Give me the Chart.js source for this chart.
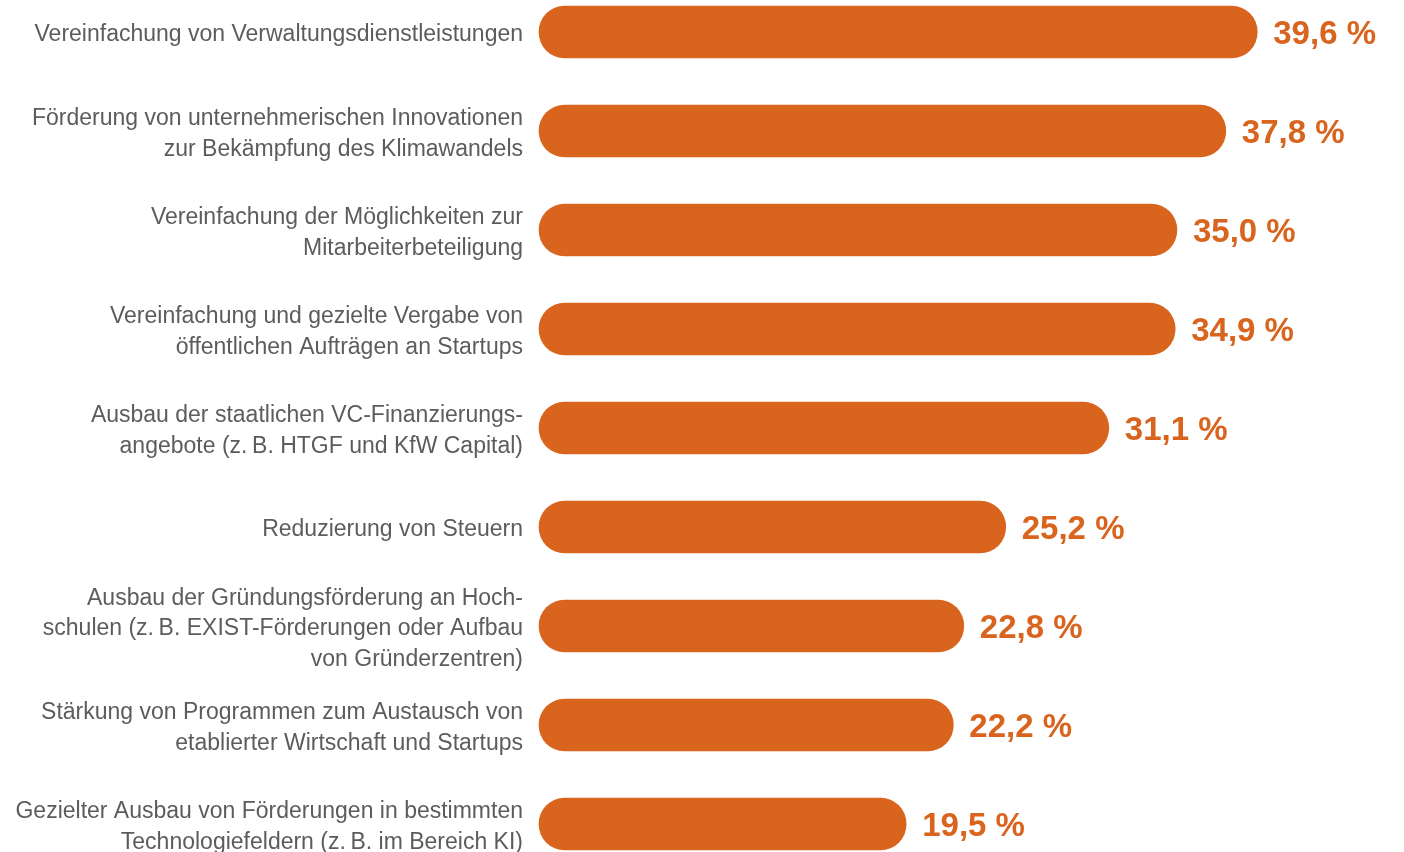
<!DOCTYPE html>
<html lang="de">
<head>
<meta charset="utf-8">
<script src="https://cdn.jsdelivr.net/npm/chart.js@4"></script>
<style>
  html, body { margin: 0; padding: 0; background: #ffffff; }
  canvas { display: block; }
</style>
</head>
<body>
<canvas id="massnahmen" width="1404" height="852"></canvas>
<script>
// Kategorien (mehrzeilig wie im Layout umbrochen)
var categories = [
    ["Vereinfachung von Verwaltungsdienstleistungen"],
    ["Förderung von unternehmerischen Innovationen", "zur Bekämpfung des Klimawandels"],
    ["Vereinfachung der Möglichkeiten zur", "Mitarbeiterbeteiligung"],
    ["Vereinfachung und gezielte Vergabe von", "öffentlichen Aufträgen an Startups"],
    ["Ausbau der staatlichen VC-Finanzierungs-", "angebote (z.\u2009B. HTGF und KfW Capital)"],
    ["Reduzierung von Steuern"],
    ["Ausbau der Gründungsförderung an Hoch-", "schulen (z.\u2009B. EXIST-Förderungen oder Aufbau", "von Gründerzentren)"],
    ["Stärkung von Programmen zum Austausch von", "etablierter Wirtschaft und Startups"],
    ["Gezielter Ausbau von Förderungen in bestimmten", "Technologiefeldern (z.\u2009B. im Bereich KI)"]
];

// Anteil der Nennungen in Prozent
var shares = [39.6, 37.8, 35.0, 34.9, 31.1, 25.2, 22.8, 22.2, 19.5];

var orange = "#d8641e";

function formatShare(v) {
    return v.toFixed(1).replace(".", ",") + " %";
}

// Prozentwerte rechts neben die Balken schreiben
var valueLabels = {
    id: "valueLabels",
    afterDatasetsDraw: function(chart) {
        var ctx = chart.ctx;
        var meta = chart.getDatasetMeta(0);
        ctx.save();
        ctx.fillStyle = orange;
        ctx.font = "bold 33px 'Liberation Sans', Arial, sans-serif";
        ctx.textAlign = "left";
        ctx.textBaseline = "middle";
        meta.data.forEach(function(bar, i) {
            ctx.fillText(formatShare(shares[i]), bar.x + 16, bar.y + 3);
        });
        ctx.restore();
    }
};

var ctx = document.getElementById("massnahmen").getContext("2d");
var chart = new Chart(ctx, {
    type: "bar",
    data: {
        labels: categories,
        datasets: [
            {
                data: shares,
                base: -1.52,
                backgroundColor: orange,
                borderRadius: 26,
                borderSkipped: false,
                barThickness: 52,
                clip: false
            }
        ]
    },
    options: {
        indexAxis: "y",
        responsive: false,
        animation: false,
        devicePixelRatio: 1,
        layout: {
            padding: { top: 32, bottom: 28, left: 0, right: 0 }
        },
        plugins: {
            legend: { display: false },
            tooltip: { enabled: false }
        },
        scales: {
            x: {
                display: false,
                min: -1.52,
                max: 48
            },
            y: {
                offset: false,
                grid: { display: false, drawTicks: false },
                border: { display: false },
                afterFit: function(scale) {
                    scale.width = 539;
                    scale.paddingTop = 0;
                    scale.paddingBottom = 0;
                },
                ticks: {
                    padding: 16,
                    labelOffset: 3,
                    color: "#5c5c5c",
                    font: { family: "'Liberation Sans', Arial, sans-serif", size: 23, lineHeight: 1.32 }
                }
            }
        }
    },
    plugins: [valueLabels]
});
</script>
</body>
</html>
